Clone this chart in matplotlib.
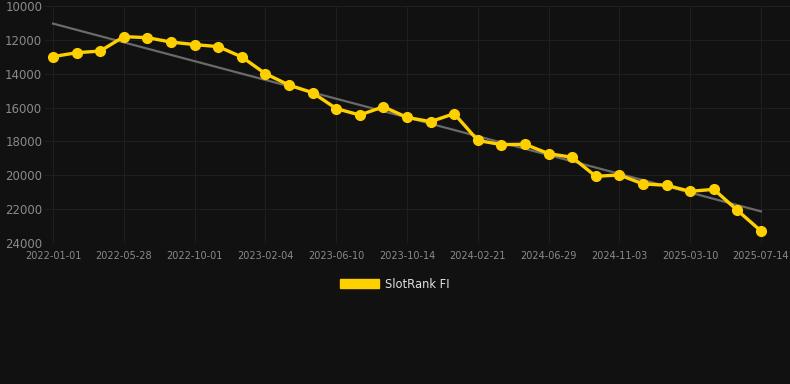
import matplotlib
matplotlib.use('Agg')
import matplotlib.pyplot as plt
import matplotlib.patches as mpatches
import numpy as np

# rank values (lower is better, axis is inverted)
ranks = [12990, 12760, 12660, 11810, 11870, 12130, 12280, 12400, 13010, 14000,
         14670, 15120, 16060, 16440, 15950, 16580, 16830, 16360, 17940, 18190,
         18170, 18720, 18940, 20060, 19980, 20510, 20590, 20950, 20830, 22070,
         23290]
tick_labels = ['2022-01-01', '2022-05-28', '2022-10-01', '2023-02-04', '2023-06-10',
               '2023-10-14', '2024-02-21', '2024-06-29', '2024-11-03', '2025-03-10',
               '2025-07-14']
series_name = 'SlotRank FI'

bg = '#111111'
gold = '#ffd000'
txt = '#8a8a8a'

x = np.arange(len(ranks))

fig = plt.figure(figsize=(7.9, 3.84), dpi=100, facecolor=bg)
ax = fig.add_axes([45/790, 1-243/384, 1-45/790, 237/384])
ax.set_facecolor(bg)

# trend line
k, b = np.polyfit(x, ranks, 1)
ax.plot(x, k*x + b, color='#6a6a6a', lw=1.6, zorder=2)

ax.plot(x, ranks, color=gold, lw=2.4, marker='o', markersize=7,
        markerfacecolor=gold, markeredgecolor=gold, zorder=3)

ax.set_ylim(24000, 10000)
ax.set_yticks(range(10000, 24001, 2000))
ax.set_xlim(-0.34, 31.23)
ax.set_xticks(x[::3])
ax.set_xticklabels(tick_labels)

ax.grid(True, color='#1f1f1f', lw=0.8)
ax.set_axisbelow(True)
for s in ax.spines.values():
    s.set_visible(False)
ax.tick_params(axis='y', colors=txt, labelsize=8.5, length=0, pad=2)
ax.tick_params(axis='x', colors=txt, labelsize=7, length=0, pad=6)

handle = mpatches.Patch(color=gold, label=series_name)
leg = fig.legend(handles=[handle], loc='center', bbox_to_anchor=(0.5, 1-284/384),
                 frameon=False, handlelength=3.4, handleheight=0.9,
                 handletextpad=0.5, fontsize=8.3)
for t in leg.get_texts():
    t.set_color('#e0e0e0')

fig.savefig('out.png', dpi=100, facecolor=bg)
